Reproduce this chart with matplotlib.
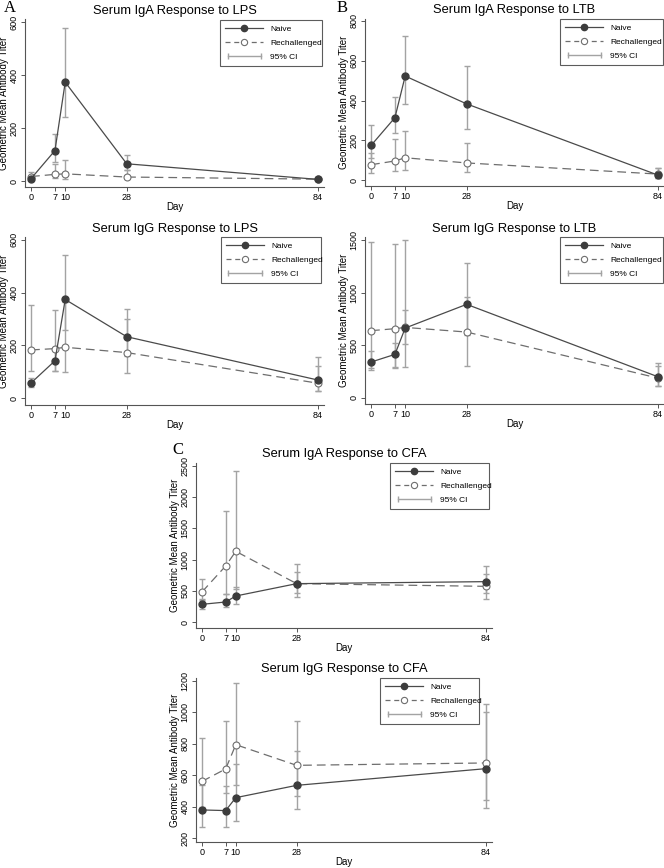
import numpy as np
import matplotlib
matplotlib.use("Agg")
import matplotlib.pyplot as plt
from matplotlib.lines import Line2D
from matplotlib.legend_handler import HandlerLine2D

plt.rcParams['font.family'] = ['Liberation Sans', 'DejaVu Sans']

# -------------------------
# data
# -------------------------
days = [0, 7, 10, 28, 84]

iga_lps_naive = [9, 115, 373, 65, 6]
iga_lps_naive_lo = [4, 72, 241, 40, 3]
iga_lps_naive_hi = [20, 177, 578, 97, 10]
iga_lps_rech = [17, 25, 27, 15, 7]
iga_lps_rech_lo = [7, 10, 8, 6, 4]
iga_lps_rech_hi = [35, 63, 79, 42, 10]

iga_ltb_naive = [174, 314, 523, 383, 25]
iga_ltb_naive_lo = [109, 238, 381, 257, 12]
iga_ltb_naive_hi = [277, 418, 723, 572, 62]
iga_ltb_rech = [77, 96, 112, 86, 30]
iga_ltb_rech_lo = [35, 44, 49, 40, 10]
iga_ltb_rech_hi = [134, 205, 245, 185, 60]

igg_lps_naive = [58, 142, 374, 233, 69]
igg_lps_naive_lo = [42, 104, 259, 160, 26]
igg_lps_naive_hi = [78, 190, 542, 337, 156]
igg_lps_rech = [183, 188, 193, 173, 57]
igg_lps_rech_lo = [105, 103, 100, 95, 29]
igg_lps_rech_hi = [353, 334, 365, 300, 122]

igg_ltb_naive = [340, 413, 664, 890, 200]
igg_ltb_naive_lo = [264, 296, 512, 600, 110]
igg_ltb_naive_hi = [445, 518, 832, 1287, 334]
igg_ltb_rech = [639, 658, 670, 626, 187]
igg_ltb_rech_lo = [280, 285, 297, 300, 115]
igg_ltb_rech_hi = [1481, 1468, 1506, 960, 300]

iga_cfa_naive = [287, 324, 420, 617, 649]
iga_cfa_naive_lo = [213, 239, 298, 410, 468]
iga_cfa_naive_hi = [362, 452, 559, 803, 894]
iga_cfa_rech = [484, 899, 1133, 617, 574]
iga_cfa_rech_lo = [367, 447, 537, 473, 372]
iga_cfa_rech_hi = [697, 1771, 2410, 936, 766]

igg_cfa_naive = [380, 376, 458, 536, 642]
igg_cfa_naive_lo = [270, 270, 312, 384, 395]
igg_cfa_naive_hi = [540, 534, 671, 754, 1050]
igg_cfa_rech = [561, 640, 794, 663, 678]
igg_cfa_rech_lo = [400, 485, 536, 468, 441]
igg_cfa_rech_hi = [838, 946, 1183, 946, 1000]

W, H = 664, 868
fig = plt.figure(figsize=(W / 100, H / 100), dpi=100)

DARK = '#3c3c3c'
MID = '#6e6e6e'
CI = '#a3a3a3'


def add_axes_px(left, top, right, bottom):
    ax = fig.add_axes([left / W, 1 - bottom / H, (right - left) / W, (bottom - top) / H])
    ax._px = (left, top, right, bottom)
    return ax


def panel(ax, title, naive, nlo, nhi, rech, rlo, rhi, ylim, yticks, leg_box):
    naive, nlo, nhi = map(np.array, (naive, nlo, nhi))
    rech, rlo, rhi = map(np.array, (rech, rlo, rhi))

    ax.errorbar(days, rech, yerr=[rech - rlo, rhi - rech], fmt='none',
                ecolor=CI, elinewidth=1, capsize=2.5, capthick=1, zorder=1)
    ax.errorbar(days, naive, yerr=[naive - nlo, nhi - naive], fmt='none',
                ecolor=CI, elinewidth=1, capsize=2.5, capthick=1, zorder=1)
    ax.plot(days, rech, color=MID, lw=0.9, ls=(0, (7, 4)), marker='o',
            markersize=5, markerfacecolor='white', markeredgecolor=MID,
            markeredgewidth=0.8, zorder=3)
    ax.plot(days, naive, color='#4a4a4a', lw=0.9, ls='-', marker='o',
            markersize=5, markerfacecolor=DARK, markeredgecolor=DARK, zorder=4)

    ax.set_xlim(-1.8, 85.8)
    ax.set_ylim(*ylim)
    ax.set_xticks(days)
    ax.set_yticks(yticks)
    ax.set_yticklabels([str(t) for t in yticks], rotation=90, va='center')
    for s in ['top', 'right']:
        ax.spines[s].set_visible(False)
    for s in ['left', 'bottom']:
        ax.spines[s].set_color('#555555')
        ax.spines[s].set_linewidth(0.8)
    ax.tick_params(direction='out', length=3, width=0.7, color='#555555',
                   labelsize=6.5, pad=1.5)

    l0, t0, r0, b0 = ax._px
    ax.set_xlabel('Day', fontsize=7, va='center')
    ax.xaxis.set_label_coords(0.5, -20 / (b0 - t0))
    ax.set_ylabel('Geometric Mean Antibody Titer', fontsize=7, va='center')
    ax.yaxis.set_label_coords(-20.5 / (r0 - l0), 0.5)
    ax.set_title(title, fontsize=9.3, pad=4)

    h_naive = Line2D([], [], color='#4a4a4a', lw=0.9, marker='o', markersize=4.5,
                     markerfacecolor=DARK, markeredgecolor=DARK)
    h_rech = Line2D([], [], color=MID, lw=0.9, ls=(0, (4, 3)), marker='o',
                    markersize=4.5, markerfacecolor='white', markeredgecolor=MID,
                    markeredgewidth=0.8)
    h_ci = Line2D([], [], color=CI, lw=1, marker='|', markersize=4,
                  markeredgewidth=1)
    l, t, r, b = leg_box
    leg = ax.legend([h_naive, h_rech, h_ci], ['Naive', 'Rechallenged', '95% CI'],
                    handler_map={h_ci: HandlerLine2D(numpoints=2)},
                    loc='upper left', mode='expand',
                    bbox_to_anchor=(l / W, 1 - b / H, (r - l) / W, (b - t) / H),
                    bbox_transform=fig.transFigure, fontsize=6,
                    handlelength=4.6, handletextpad=0.8, labelspacing=0.75,
                    borderpad=0.6, borderaxespad=0, fancybox=False,
                    frameon=True, numpoints=1)
    leg.get_frame().set_edgecolor('#333333')
    leg.get_frame().set_linewidth(0.8)


# A, top
ax1 = add_axes_px(24.9, 19.1, 324.2, 187.1)
panel(ax1, 'Serum IgA Response to LPS', iga_lps_naive, iga_lps_naive_lo, iga_lps_naive_hi,
      iga_lps_rech, iga_lps_rech_lo, iga_lps_rech_hi,
      (-23, 611), [0, 200, 400, 600], (220, 20, 322, 67))

# B, top
ax2 = add_axes_px(364.9, 19, 664, 186)
panel(ax2, 'Serum IgA Response to LTB', iga_ltb_naive, iga_ltb_naive_lo, iga_ltb_naive_hi,
      iga_ltb_rech, iga_ltb_rech_lo, iga_ltb_rech_hi,
      (-30, 810), [0, 200, 400, 600, 800], (560, 19, 663, 64))

# A, bottom
ax3 = add_axes_px(24.9, 237.1, 324.2, 404.9)
panel(ax3, 'Serum IgG Response to LPS', igg_lps_naive, igg_lps_naive_lo, igg_lps_naive_hi,
      igg_lps_rech, igg_lps_rech_lo, igg_lps_rech_hi,
      (-25, 610), [0, 200, 400, 600], (221, 237, 321, 282))

# B, bottom
ax4 = add_axes_px(364.9, 237.2, 664, 404)
panel(ax4, 'Serum IgG Response to LTB', igg_ltb_naive, igg_ltb_naive_lo, igg_ltb_naive_hi,
      igg_ltb_rech, igg_ltb_rech_lo, igg_ltb_rech_hi,
      (-60, 1530), [0, 500, 1000, 1500], (560, 237, 663, 282))

# C, top
ax5 = add_axes_px(195.9, 463, 492.1, 628)
panel(ax5, 'Serum IgA Response to CFA', iga_cfa_naive, iga_cfa_naive_lo, iga_cfa_naive_hi,
      iga_cfa_rech, iga_cfa_rech_lo, iga_cfa_rech_hi,
      (-91, 2543), [0, 500, 1000, 1500, 2000, 2500], (390, 463, 489, 509))

# C, bottom
ax6 = add_axes_px(195.9, 678, 492.1, 842.1)
panel(ax6, 'Serum IgG Response to CFA', igg_cfa_naive, igg_cfa_naive_lo, igg_cfa_naive_hi,
      igg_cfa_rech, igg_cfa_rech_lo, igg_cfa_rech_hi,
      (176, 1217), [200, 400, 600, 800, 1000, 1200], (380, 678, 479, 723))

# panel letters
for letter, x, y in [('A', 4, 8), ('B', 337, 8), ('C', 172, 450)]:
    fig.text(x / W, 1 - y / H, letter, fontsize=12, family='Liberation Serif',
             ha='left', va='center')

fig.savefig('out.png', dpi=100)
